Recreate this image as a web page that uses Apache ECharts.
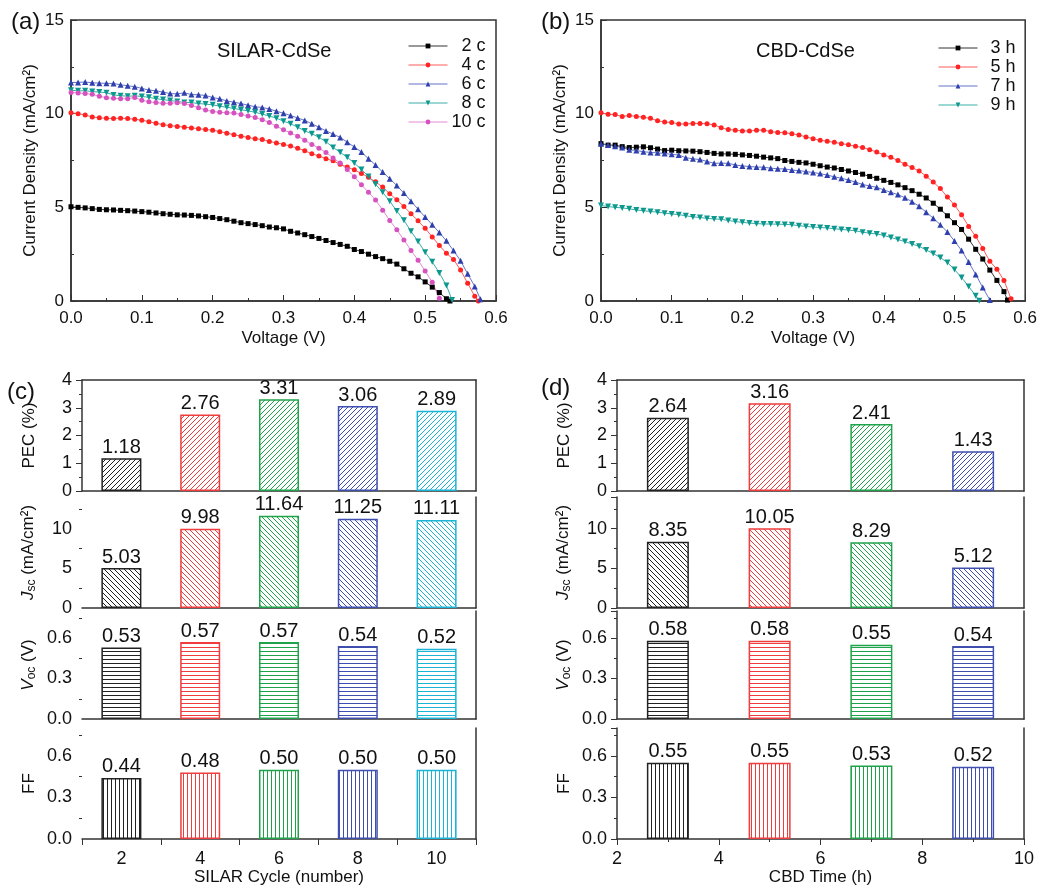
<!DOCTYPE html>
<html>
<head>
<meta charset="utf-8">
<title>CdSe sensitized cells: J-V curves and photovoltaic parameters</title>
<script src="https://cdn.jsdelivr.net/npm/echarts@6/dist/echarts.min.js"></script>
<style>
  html, body { margin: 0; padding: 0; background: #fff; }
  #chart { width: 1040px; height: 889px; }
</style>
</head>
<body>
<div id="chart"></div>
<script>
// ---- J-V data: current density (mA/cm2) sampled every 0.01 V from 0 V ----
const voltage = [0.00,0.01,0.02,0.03,0.04,0.05,0.06,0.07,0.08,0.09,0.10,0.11,0.12,0.13,0.14,0.15,0.16,0.17,0.18,0.19,
  0.20,0.21,0.22,0.23,0.24,0.25,0.26,0.27,0.28,0.29,0.30,0.31,0.32,0.33,0.34,0.35,0.36,0.37,0.38,0.39,
  0.40,0.41,0.42,0.43,0.44,0.45,0.46,0.47,0.48,0.49,0.50,0.51,0.52,0.53,0.54,0.55,0.56,0.57,0.58];

// SILAR-CdSe, by number of cycles
const silarNames = ['2 c', '4 c', '6 c', '8 c', '10 c'];
const j2c = [5.03,5.00,4.97,4.93,4.89,4.87,4.86,4.84,4.82,4.80,4.77,4.74,4.70,4.66,4.63,4.60,4.59,4.57,4.54,4.50,
  4.46,4.40,4.34,4.26,4.18,4.13,4.08,4.02,3.95,3.91,3.85,3.72,3.63,3.54,3.44,3.34,3.23,3.12,3.02,2.92,
  2.75,2.64,2.50,2.37,2.26,2.12,1.97,1.72,1.48,1.29,1.02,0.74,0.45,0.12];
const j4c = [10.05,10.00,9.93,9.82,9.78,9.75,9.74,9.76,9.74,9.70,9.65,9.57,9.49,9.41,9.36,9.32,9.28,9.24,9.20,9.15,
  9.12,9.04,8.96,8.88,8.80,8.73,8.66,8.62,8.52,8.44,8.36,8.27,8.16,8.02,7.86,7.74,7.60,7.48,7.30,7.15,
  7.00,6.81,6.60,6.36,6.08,5.72,5.40,5.04,4.66,4.28,3.88,3.42,2.96,2.55,2.22,1.65,0.95,0.25];
const j6c = [11.66,11.67,11.69,11.65,11.63,11.62,11.61,11.54,11.49,11.44,11.35,11.26,11.22,11.15,11.07,11.06,11.11,11.02,11.01,10.97,
  10.86,10.79,10.68,10.61,10.54,10.45,10.37,10.33,10.25,10.13,10.02,9.90,9.77,9.64,9.46,9.27,9.08,8.91,8.73,8.48,
  8.22,7.95,7.59,7.26,6.88,6.53,6.16,5.76,5.33,4.90,4.48,4.07,3.65,3.21,2.69,2.15,1.45,0.78];
const j8c = [11.25,11.22,11.22,11.18,11.15,11.12,11.00,10.96,10.93,10.95,10.92,10.87,10.80,10.75,10.70,10.65,10.60,10.59,10.54,10.51,
  10.47,10.40,10.34,10.28,10.21,10.15,10.07,9.98,9.87,9.76,9.60,9.46,9.28,9.08,8.93,8.74,8.50,8.20,7.94,7.67,
  7.36,7.02,6.65,6.23,5.80,5.33,4.80,4.31,3.72,3.18,2.60,2.09,1.50,0.83];
const j10c = [11.13,11.10,11.08,11.03,10.93,10.85,10.82,10.80,10.80,10.86,10.72,10.63,10.59,10.55,10.56,10.58,10.54,10.44,10.31,10.19,
  10.12,10.07,10.05,10.03,9.96,9.88,9.80,9.68,9.53,9.33,9.14,8.97,8.80,8.58,8.36,8.16,7.93,7.64,7.36,7.02,
  6.63,6.20,5.80,5.39,4.85,4.30,3.80,3.26,2.70,2.18,1.60,1.00,0.15];
// last measured point of each curve near open circuit [V, J]
const silarEnds = [[0.535, 0.0], [0.575, 0.0], [0.578, 0.10], [0.538, 0.05], null];

// CBD-CdSe, by deposition time
const cbdNames = ['3 h', '5 h', '7 h', '9 h'];
const j3h = [8.40,8.32,8.32,8.24,8.19,8.21,8.23,8.18,8.11,8.03,8.05,8.02,8.01,8.00,7.97,7.93,7.88,7.85,7.85,7.83,
  7.80,7.77,7.73,7.68,7.64,7.60,7.50,7.45,7.40,7.37,7.30,7.22,7.15,7.10,7.02,6.94,6.86,6.77,6.65,6.55,
  6.44,6.33,6.20,6.05,5.89,5.70,5.50,5.22,4.90,4.55,4.18,3.82,3.30,2.76,2.24,1.65,1.10,0.50];
const j5h = [10.05,9.97,9.95,9.85,9.90,9.85,9.81,9.75,9.62,9.55,9.53,9.45,9.45,9.48,9.48,9.46,9.40,9.25,9.15,9.12,
  9.08,9.07,9.12,9.12,9.04,9.00,8.98,8.93,8.86,8.76,8.66,8.58,8.53,8.47,8.40,8.34,8.26,8.19,8.08,7.95,
  7.80,7.67,7.50,7.30,7.12,6.94,6.66,6.35,6.00,5.55,5.12,4.60,3.98,3.45,2.80,2.12,1.70,1.10,0.12];
const j7h = [8.40,8.33,8.26,8.20,8.08,8.03,7.97,7.93,7.91,7.87,7.83,7.79,7.65,7.59,7.55,7.45,7.35,7.36,7.35,7.26,
  7.21,7.18,7.15,7.14,7.09,7.06,7.05,6.99,6.96,6.91,6.86,6.80,6.72,6.63,6.55,6.46,6.35,6.22,6.14,6.07,
  5.93,5.80,5.68,5.51,5.30,5.06,4.74,4.42,4.07,3.68,3.20,2.70,2.08,1.42,0.72,0.05];
const j9h = [5.10,5.04,5.00,4.97,4.92,4.86,4.82,4.78,4.74,4.69,4.65,4.61,4.55,4.49,4.46,4.41,4.38,4.36,4.30,4.24,
  4.20,4.16,4.13,4.11,4.11,4.10,4.09,4.07,4.02,3.98,3.95,3.92,3.90,3.86,3.82,3.79,3.75,3.67,3.62,3.58,
  3.50,3.39,3.28,3.17,3.04,2.92,2.72,2.53,2.32,2.05,1.68,1.25,0.78,0.28];
const cbdEnds = [[0.575, 0.05], null, null, [0.535, 0.02]];

// ---- photovoltaic parameters ----
const silarCycles = ['2', '4', '6', '8', '10'];
const silarPEC = [1.18, 2.76, 3.31, 3.06, 2.89];
const silarJsc = [5.03, 9.98, 11.64, 11.25, 11.11];
const silarVoc = [0.53, 0.57, 0.57, 0.54, 0.52];
const silarFF  = [0.44, 0.48, 0.50, 0.50, 0.50];

const cbdTimes = [3, 5, 7, 9];
const cbdPEC = [2.64, 3.16, 2.41, 1.43];
const cbdJsc = [8.35, 10.05, 8.29, 5.12];
const cbdVoc = [0.58, 0.58, 0.55, 0.54];
const cbdFF  = [0.55, 0.55, 0.53, 0.52];

// ---- styling ----
const FONT = '"Liberation Sans", Arial, Helvetica, sans-serif';
const AXIS = '#333';
const INK = '#111';
const curveMarker = ['#000000', '#ff2323', '#2f3fae', '#0c988e', '#d653bf'];
const curveLine   = ['#333333', '#ff5a5a', '#6574c6', '#3aaea6', '#e58ad5'];
const curveSymbol = ['rect', 'circle', 'triangle', 'path://M0,0 L10,0 L5,9 Z', 'circle'];
const barColors = ['#222222', '#f03c3c', '#1fa34a', '#3f4fb0', '#1bb4d6'];

// fill tiles for the hatched bars
function hatch(color, kind) {
  const s = (kind === 'horiz' || kind === 'vert') ? 4 : 5;
  const c = document.createElement('canvas');
  c.width = s; c.height = s;
  const g = c.getContext('2d');
  g.fillStyle = '#fff';
  g.fillRect(0, 0, s, s);
  g.strokeStyle = color;
  g.lineWidth = 1;
  g.beginPath();
  if (kind === 'fwd') {
    g.moveTo(-1, s + 1); g.lineTo(s + 1, -1);
    g.moveTo(-1, 1); g.lineTo(1, -1);
    g.moveTo(s - 1, s + 1); g.lineTo(s + 1, s - 1);
  } else if (kind === 'back') {
    g.moveTo(-1, -1); g.lineTo(s + 1, s + 1);
    g.moveTo(s - 1, -1); g.lineTo(s + 1, 1);
    g.moveTo(-1, s - 1); g.lineTo(1, s + 1);
  } else if (kind === 'horiz') {
    g.moveTo(0, s - 0.5); g.lineTo(s, s - 0.5);
  } else {
    g.moveTo(s - 0.5, 0); g.lineTo(s - 0.5, s);
  }
  g.stroke();
  return { image: c, repeat: 'repeat' };
}

const grids = [], xAxes = [], yAxes = [], series = [], legends = [];
const axisLineStyle = { color: AXIS, width: 1.5 };
const tickStyle = { color: AXIS, width: 1 };
const labelFont = (size) => ({ fontSize: size, fontFamily: FONT, color: INK });

// ---- J-V panels ----
function jvPanel(left, width, names, curves, ends, legendLeft, legendTop) {
  grids.push({ left: left, top: 20, width: width, height: 281, show: true,
    borderColor: AXIS, borderWidth: 1.5, backgroundColor: 'transparent' });
  const gi = grids.length - 1;
  xAxes.push({
    gridIndex: gi, type: 'value', min: 0, max: 0.6, interval: 0.1,
    name: 'Voltage (V)', nameLocation: 'middle', nameGap: 29,
    nameTextStyle: labelFont(17),
    axisLine: { lineStyle: axisLineStyle },
    axisTick: { inside: true, length: 6, lineStyle: tickStyle },
    minorTick: { show: true, splitNumber: 2, length: 3, lineStyle: tickStyle },
    axisLabel: Object.assign(labelFont(17), { margin: 9, formatter: v => v.toFixed(1) }),
    splitLine: { show: false }
  });
  const xi = xAxes.length - 1;
  yAxes.push({
    gridIndex: gi, type: 'value', min: 0, max: 15, interval: 5,
    name: 'Current Density (mA/cm²)', nameLocation: 'middle', nameGap: 32,
    nameTextStyle: labelFont(17),
    axisLine: { onZero: false, lineStyle: axisLineStyle },
    axisTick: { inside: true, length: 6, lineStyle: tickStyle },
    minorTick: { show: true, splitNumber: 2, length: 3, lineStyle: tickStyle },
    axisLabel: Object.assign(labelFont(17), { margin: 7 }),
    splitLine: { show: false }
  });
  const yi = yAxes.length - 1;
  names.forEach((name, k) => {
    const data = curves[k].map((j, i) => [voltage[i], j]);
    if (ends[k]) data.push(ends[k]);
    series.push({
      type: 'line', name: name, xAxisIndex: xi, yAxisIndex: yi, data: data,
      symbol: curveSymbol[k], symbolSize: k === 2 || k === 3 ? 6 : 5,
      itemStyle: { color: curveMarker[k] },
      lineStyle: { color: curveLine[k], width: 1 },
      animation: false, silent: true, z: 3
    });
  });
  legends.push({
    data: names, left: legendLeft, top: legendTop, orient: 'vertical',
    itemWidth: 39, itemHeight: 6, itemGap: 1, selectedMode: false,
    lineStyle: { width: 1 },
    formatter: n => '{r|' + n + '}',
    textStyle: { rich: { r: { width: 33, align: 'right', fontSize: 18, lineHeight: 20,
      fontFamily: FONT, color: INK } } }
  });
}
jvPanel(71, 425, silarNames, [j2c, j4c, j6c, j8c, j10c], silarEnds, 403, 32);
jvPanel(601, 426, cbdNames, [j3h, j5h, j7h, j9h], cbdEnds, 933, 34);

// ---- stacked parameter panels ----
const axisNameRich = {
  i: { fontStyle: 'italic', fontSize: 17, fontFamily: FONT, color: INK, verticalAlign: 'top', lineHeight: 17 },
  s: { fontSize: 12, fontFamily: FONT, color: INK, verticalAlign: 'bottom', padding: [6, 0, 0, 0] },
  n: { fontSize: 17, fontFamily: FONT, color: INK, verticalAlign: 'top', lineHeight: 17 }
};
const metrics = [
  { name: '{n|PEC (%)}', max: 4, interval: 1, top: 380, height: 111, kind: 'fwd', fmt: v => String(v), maxLabel: true },
  { name: '{i|J}{s|sc}{n| (mA/cm²)}', max: 14, interval: 5, top: 497, height: 111, kind: 'back', fmt: v => String(v), maxLabel: false },
  { name: '{i|V}{s|oc}{n| (V)}', max: 0.8, interval: 0.3, top: 611, height: 108, kind: 'horiz', fmt: v => v.toFixed(1), maxLabel: false },
  { name: '{n|FF}', max: 0.8, interval: 0.3, top: 728, height: 111, kind: 'vert', fmt: v => v.toFixed(1), maxLabel: false }
];

function paramColumn(left, width, values, xCfg, barWidth, xName) {
  metrics.forEach((m, r) => {
    const bottomRow = r === metrics.length - 1;
    grids.push({ left: left, top: m.top, width: width, height: m.height });
    const gi = grids.length - 1;
    const xa = Object.assign({
      gridIndex: gi,
      axisLine: { onZero: false, lineStyle: axisLineStyle },
      axisTick: { show: bottomRow, length: 6, lineStyle: tickStyle },
      axisLabel: Object.assign(labelFont(18), { show: bottomRow, margin: 11 }),
      splitLine: { show: false },
      name: bottomRow ? xName : '', nameLocation: 'middle', nameGap: 30,
      nameTextStyle: labelFont(17)
    }, xCfg);
    xAxes.push(xa);
    const xi = xAxes.length - 1;
    yAxes.push({
      gridIndex: gi, type: 'value', min: 0, max: m.max, interval: m.interval,
      name: m.name, nameLocation: 'middle', nameGap: 44,
      nameTextStyle: { rich: axisNameRich },
      axisLine: { onZero: false, lineStyle: axisLineStyle },
      axisTick: { length: 6, lineStyle: tickStyle },
      minorTick: { show: true, splitNumber: 2, length: 3, lineStyle: tickStyle },
      axisLabel: Object.assign(labelFont(18), { margin: 10, showMaxLabel: m.maxLabel, formatter: m.fmt }),
      splitLine: { show: false }
    });
    const yi = yAxes.length - 1;
    // frame: right edge for every row, top edge for the first row
    yAxes.push({ gridIndex: gi, type: 'value', position: 'right', min: 0, max: 1,
      axisLine: { show: true, onZero: false, lineStyle: axisLineStyle },
      axisTick: { show: false }, axisLabel: { show: false }, splitLine: { show: false } });
    if (r === 0) {
      xAxes.push({ gridIndex: gi, type: 'value', position: 'top', min: 0, max: 1,
        axisLine: { show: true, onZero: false, lineStyle: axisLineStyle },
        axisTick: { show: false }, axisLabel: { show: false }, splitLine: { show: false } });
    }
    const rowValues = values[r];
    series.push({
      type: 'bar', xAxisIndex: xi, yAxisIndex: yi, barWidth: barWidth,
      data: rowValues.map((v, k) => ({
        value: xCfg.type === 'value' ? [xCfg.positions[k], v] : v,
        itemStyle: { color: hatch(barColors[k], m.kind), borderColor: barColors[k], borderWidth: 1.5 }
      })),
      label: {
        show: true, position: 'top', distance: 1, fontSize: 20, fontFamily: FONT, color: INK,
        formatter: p => (Array.isArray(p.value) ? p.value[1] : p.value).toFixed(2)
      },
      animation: false, silent: true, z: 3
    });
  });
}

paramColumn(82, 394, [silarPEC, silarJsc, silarVoc, silarFF],
  { type: 'category', data: silarCycles, boundaryGap: true },
  40, 'SILAR Cycle (number)');
paramColumn(617, 407, [cbdPEC, cbdJsc, cbdVoc, cbdFF],
  { type: 'value', min: 2, max: 10, interval: 2, positions: cbdTimes,
    minorTick: { show: true, splitNumber: 2, length: 3, lineStyle: tickStyle } },
  42, 'CBD Time (h)');
// hide the minor ticks on the upper rows of the time axis
xAxes.forEach(a => {
  if (a.positions) {
    if (!a.name) a.minorTick = { show: false };
    delete a.positions;
  }
});

const textEl = (text, left, top, size) => ({
  type: 'text', left: left, top: top, silent: true,
  style: { text: text, fontSize: size, fontFamily: FONT, fill: INK }
});

const chart = echarts.init(document.getElementById('chart'), null, { renderer: 'canvas' });
chart.setOption({
  backgroundColor: '#fff',
  animation: false,
  grid: grids,
  xAxis: xAxes,
  yAxis: yAxes,
  legend: legends,
  series: series,
  graphic: [
    textEl('(a)', 11, 10, 24),
    textEl('(b)', 541, 10, 24),
    textEl('(c)', 7, 380, 24),
    textEl('(d)', 541, 376, 24),
    textEl('SILAR-CdSe', 217, 41, 20),
    textEl('CBD-CdSe', 756, 41, 20)
  ]
});
</script>
</body>
</html>
